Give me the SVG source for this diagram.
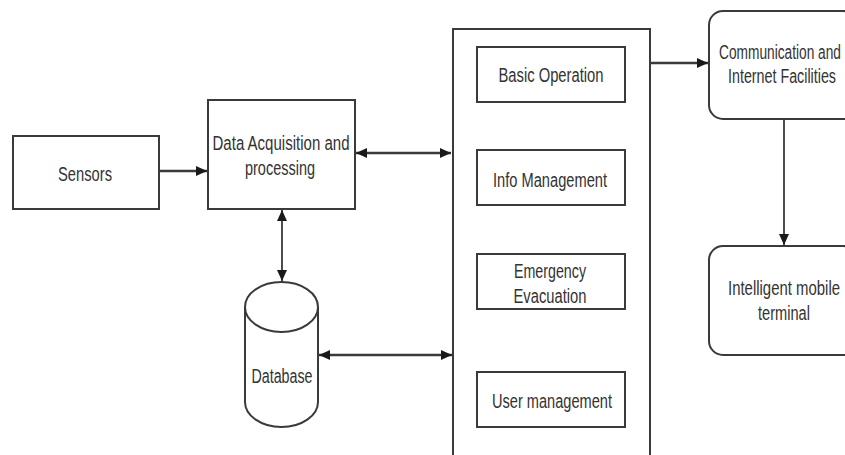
<svg xmlns="http://www.w3.org/2000/svg" width="845" height="455" viewBox="0 0 845 455">
<style>
.box{fill:#fff;stroke:#3a3a3a;stroke-width:2}
.t{font-family:"Liberation Sans",Arial,sans-serif;font-size:20px;fill:#333;text-anchor:middle}
.c{fill:none;stroke:#3a3a3a;stroke-width:2.5}
.thin{fill:none;stroke:#3a3a3a;stroke-width:1.8}
</style>
<defs>
<marker id="ae" markerUnits="userSpaceOnUse" markerWidth="12" markerHeight="10" refX="11" refY="5" orient="auto"><path d="M0,0 L11,5 L0,10 Z" fill="#1a1a1a"/></marker>
<marker id="as" markerUnits="userSpaceOnUse" markerWidth="12" markerHeight="10" refX="0" refY="5" orient="auto"><path d="M11,0 L0,5 L11,10 Z" fill="#1a1a1a"/></marker>
</defs>
<rect width="845" height="455" fill="#fff"/>
<g id="connectors">
<line class="c" x1="159" y1="171" x2="207" y2="171" marker-end="url(#ae)"/>
<line class="c" x1="356" y1="153" x2="451" y2="153" marker-start="url(#as)" marker-end="url(#ae)"/>
<line class="thin" x1="282" y1="210" x2="282" y2="281" marker-start="url(#as)" marker-end="url(#ae)"/>
<line class="c" x1="319" y1="355" x2="452" y2="355" marker-start="url(#as)" marker-end="url(#ae)"/>
<line class="c" x1="650" y1="63" x2="708" y2="63" marker-end="url(#ae)"/>
<line class="thin" x1="784" y1="119" x2="784" y2="245" marker-end="url(#ae)"/>
</g>
<g id="sensors">
<rect class="box" x="13" y="136" width="146" height="73"/>
<text class="t" x="85" y="181" textLength="54" lengthAdjust="spacingAndGlyphs">Sensors</text>
</g>
<g id="data-acquisition">
<rect class="box" x="208" y="100" width="147" height="109"/>
<text class="t" x="281" y="150" textLength="137" lengthAdjust="spacingAndGlyphs">Data Acquisition and</text>
<text class="t" x="280" y="175" textLength="70" lengthAdjust="spacingAndGlyphs">processing</text>
</g>
<g id="database">
<path class="box" d="M245,307 A36.5,25 0 0 1 318,307 L318,402 A36.5,25 0 0 1 245,402 Z"/>
<path class="box" d="M245,307 A36.5,25 0 0 0 318,307" fill="none"/>
<text class="t" x="282" y="383" textLength="61" lengthAdjust="spacingAndGlyphs">Database</text>
</g>
<g id="services">
<rect class="box" x="453" y="29" width="197" height="440"/>
</g>
<g id="basic-operation">
<rect class="box" x="477" y="47" width="148" height="55"/>
<text class="t" x="551" y="82" textLength="105" lengthAdjust="spacingAndGlyphs">Basic Operation</text>
</g>
<g id="info-management">
<rect class="box" x="477" y="150" width="148" height="55"/>
<text class="t" x="550" y="187" textLength="114" lengthAdjust="spacingAndGlyphs">Info Management</text>
</g>
<g id="emergency-evacuation">
<rect class="box" x="477" y="254" width="148" height="55"/>
<text class="t" x="550" y="278" textLength="72" lengthAdjust="spacingAndGlyphs">Emergency</text>
<text class="t" x="550" y="303" textLength="73" lengthAdjust="spacingAndGlyphs">Evacuation</text>
</g>
<g id="user-management">
<rect class="box" x="477" y="372" width="148" height="55"/>
<text class="t" x="552" y="408" textLength="120" lengthAdjust="spacingAndGlyphs">User management</text>
</g>
<g id="communication">
<rect class="box" x="709" y="11" width="148" height="108" rx="14"/>
<text class="t" x="780" y="59" textLength="122" lengthAdjust="spacingAndGlyphs">Communication and</text>
<text class="t" x="782" y="83" textLength="108" lengthAdjust="spacingAndGlyphs">Internet Facilities</text>
</g>
<g id="mobile-terminal">
<rect class="box" x="709" y="246" width="148" height="109" rx="14"/>
<text class="t" x="784" y="295" textLength="112" lengthAdjust="spacingAndGlyphs">Intelligent mobile</text>
<text class="t" x="784" y="320" textLength="52" lengthAdjust="spacingAndGlyphs">terminal</text>
</g>
</svg>
